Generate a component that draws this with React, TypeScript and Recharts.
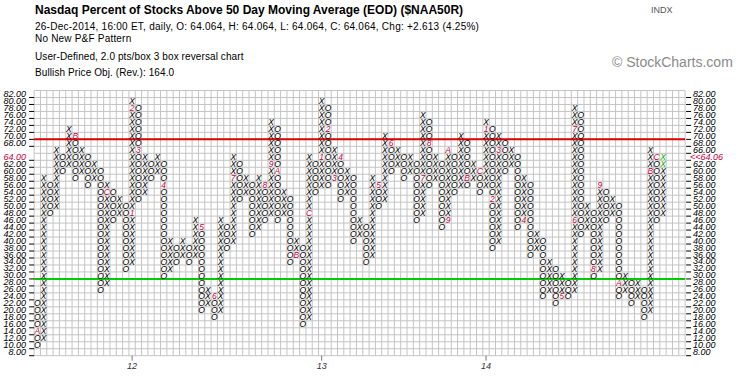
import React from "react";
import { ScatterChart, Scatter, XAxis, YAxis, CartesianGrid, ReferenceLine } from "recharts";

// P&F columns (2 pts/box). First column is an O column, then they alternate.
const colLow = [
  10, 12, 48, 50, 60, 62, 58, 60, 56, 58, 26, 28, 46, 48, 32, 34, 52, 54, 58, 60,
  30, 32, 34, 36, 34, 36, 20, 22, 18, 20, 38, 40, 52, 54, 42, 44, 46, 48, 46, 48,
  34, 36, 16, 18, 54, 56, 56, 58, 52, 54, 40, 42, 34, 36, 50, 52, 60, 62, 58, 60,
  46, 48, 56, 58, 44, 46, 54, 56, 56, 58, 54, 56, 38, 40, 60, 62, 44, 46, 36, 38,
  24, 26, 22, 24, 24, 26, 42, 44, 30, 32, 46, 48, 24, 26, 22, 24, 18, 20, 46, 48,
];
const colHigh = [
  22, 58, 56, 66, 64, 72, 70, 66, 64, 62, 60, 56, 54, 52, 50, 80, 78, 64, 62, 64,
  62, 40, 38, 40, 38, 46, 44, 26, 24, 46, 44, 64, 62, 58, 56, 58, 56, 74, 72, 54,
  52, 40, 38, 64, 62, 80, 78, 66, 64, 60, 58, 46, 44, 58, 56, 70, 68, 66, 64, 64,
  62, 76, 74, 64, 62, 66, 64, 70, 68, 62, 60, 74, 72, 70, 68, 66, 64, 58, 56, 42,
  40, 34, 32, 30, 28, 78, 76, 50, 48, 56, 54, 52, 50, 30, 28, 28, 26, 66, 64, 64,
];

// month markers (1-9, A-C) that replace a box
const markCol = [0, 6, 11, 15, 15, 16, 20, 26, 28, 31, 36, 37, 38, 41, 43, 45, 46, 47, 48, 54, 56, 61, 62, 65, 65, 68, 70, 71, 72, 73, 77, 83, 85, 85, 88, 89, 92, 97, 98];
const markVal = [14, 70, 54, 48, 78, 66, 56, 44, 24, 58, 56, 62, 60, 36, 48, 64, 72, 58, 64, 56, 68, 58, 68, 46, 66, 58, 60, 72, 52, 66, 46, 24, 46, 72, 32, 56, 28, 60, 64];
const markChar = ["A", "B", "C", "1", "2", "3", "4", "5", "6", "7", "8", "9", "A", "B", "C", "1", "2", "3", "4", "5", "6", "7", "8", "9", "A", "B", "C", "1", "2", "3", "4", "5", "6", "7", "8", "9", "A", "B", "C"];

// boxes added on the last session
const greenCol = 99;
const greenVals = [62, 64];

const yTicks = [8, 10, 12, 14, 16, 18, 20, 22, 24, 26, 28, 30, 32, 34, 36, 38, 40, 42, 44, 46, 48, 50, 52, 54, 56, 58, 60, 62, 64, 66, 68, 70, 72, 74, 76, 78, 80, 82];
const yearCols = [15, 45, 71];
const yearLabels = ["12", "13", "14"];
const lastPrice = "64.06";

const RED = "#cc0044";
const GREEN = "#00b000";
const FONT = "'Liberation Sans', Arial, sans-serif";

const boxes: { col: number; v: number; text: string; color: string }[] = [];
colLow.forEach((lo, c) => {
  const base = c % 2 === 0 ? "O" : "X";
  for (let v = lo; v <= colHigh[c]; v += 2) {
    let text = base;
    let color = "#000";
    const m = markCol.findIndex((mc, i) => mc === c && markVal[i] === v);
    if (m >= 0) {
      text = markChar[m];
      color = RED;
    } else if (c === greenCol && greenVals.includes(v)) {
      color = GREEN;
    }
    boxes.push({ col: c, v, text, color });
  }
});

const colEdges = Array.from({ length: 104 }, (_, i) => i - 0.5);
const rowEdges = Array.from({ length: 39 }, (_, i) => 7 + i * 2);

const Glyph = (props: any) => {
  const { cx, cy, payload } = props;
  return (
    <text x={cx} y={cy + 3.1} textAnchor="middle" fontSize={8.5} fontStyle="italic" fontFamily={FONT} fill={payload.color}>
      {payload.text}
    </text>
  );
};

const LeftTick = (props: any) => {
  const { x, y, payload } = props;
  const v = payload.value;
  if (v === 66) return <g />;
  const isPrice = v === 64;
  return (
    <g>
      <line x1={x + 3} x2={x + 8} y1={y + 3.5} y2={y + 3.5} stroke="#000" />
      <text x={x} y={y + 3} textAnchor="end" fontSize={9} fontStyle="italic" fontFamily={FONT} fill={isPrice ? RED : "#000"}>
        {v.toFixed(2)}
      </text>
    </g>
  );
};

const RightTick = (props: any) => {
  const { x, y, payload } = props;
  const v = payload.value;
  const isPrice = v === 64;
  return (
    <g>
      <line x1={x - 7} x2={x - 2} y1={y + 3.5} y2={y + 3.5} stroke="#000" />
      <text x={isPrice ? x - 3 : x} y={y + 3} textAnchor="start" fontSize={9} fontStyle="italic" fontFamily={FONT} fill={isPrice ? RED : "#000"}>
        {isPrice ? "<<" + lastPrice : v.toFixed(2)}
      </text>
    </g>
  );
};

const line = (top: number, size: number, extra: React.CSSProperties = {}): React.CSSProperties => ({
  position: "absolute",
  left: 35,
  top,
  fontSize: size,
  fontFamily: FONT,
  whiteSpace: "nowrap",
  color: "#000",
  ...extra,
});

export default function App() {
  return (
    <div style={{ position: "absolute", left: 0, top: 0, width: 745, height: 377, background: "#fff", overflow: "hidden" }}>
      <div style={line(3, 12, { fontWeight: "bold" })}>Nasdaq Percent of Stocks Above 50 Day Moving Average (EOD) ($NAA50R)</div>
      <div style={line(5, 9, { left: 651, color: "#555" })}>INDX</div>
      <div style={line(21, 10, { letterSpacing: 0.25 })}>26-Dec-2014, 16:00 ET, daily, O: 64.064, H: 64.064, L: 64.064, C: 64.064, Chg: +2.613 (4.25%)</div>
      <div style={line(33, 10, { letterSpacing: 0.2 })}>No New P&amp;F Pattern</div>
      <div style={line(51, 10, { letterSpacing: 0.1 })}>User-Defined, 2.0 pts/box 3 box reversal chart</div>
      <div style={line(67, 10, { letterSpacing: 0.1 })}>Bullish Price Obj. (Rev.): 164.0</div>
      <div style={line(54, 14, { left: 612, color: "#8a8a8a" })}>© StockCharts.com</div>
      <ScatterChart width={745} height={377} margin={{ top: 90.5, right: 0, bottom: 0, left: 0 }}>
        <CartesianGrid yAxisId="L" stroke="#c4c4c4" verticalValues={colEdges} horizontalValues={rowEdges} />
        <XAxis
          type="number"
          dataKey="col"
          domain={[-0.5, 102.5]}
          allowDataOverflow
          ticks={yearCols}
          interval={0}
          tickFormatter={(c: number) => yearLabels[yearCols.indexOf(c)]}
          height={21.3}
          axisLine={false}
          tickSize={5}
          tickLine={{ stroke: "#777" }}
          tick={{ fontSize: 9, fontStyle: "italic", fill: "#333", fontFamily: FONT }}
        />
        <YAxis
          yAxisId="L"
          type="number"
          dataKey="v"
          domain={[7, 83]}
          allowDataOverflow
          ticks={yTicks}
          interval={0}
          width={34.14}
          tickSize={0}
          tickMargin={8}
          axisLine={false}
          tickLine={false}
          tick={<LeftTick />}
        />
        <YAxis
          yAxisId="R"
          orientation="right"
          type="number"
          dataKey="v"
          domain={[7, 83]}
          allowDataOverflow
          ticks={yTicks}
          interval={0}
          width={59.9}
          tickSize={0}
          tickMargin={8}
          axisLine={false}
          tickLine={false}
          tick={<RightTick />}
        />
        <ReferenceLine yAxisId="L" y={69} stroke="#dd0000" strokeWidth={2} />
        <ReferenceLine yAxisId="L" y={29} stroke="#00cc00" strokeWidth={2} />
        <Scatter yAxisId="L" data={boxes} dataKey="v" shape={Glyph} isAnimationActive={false} />
      </ScatterChart>
    </div>
  );
}
